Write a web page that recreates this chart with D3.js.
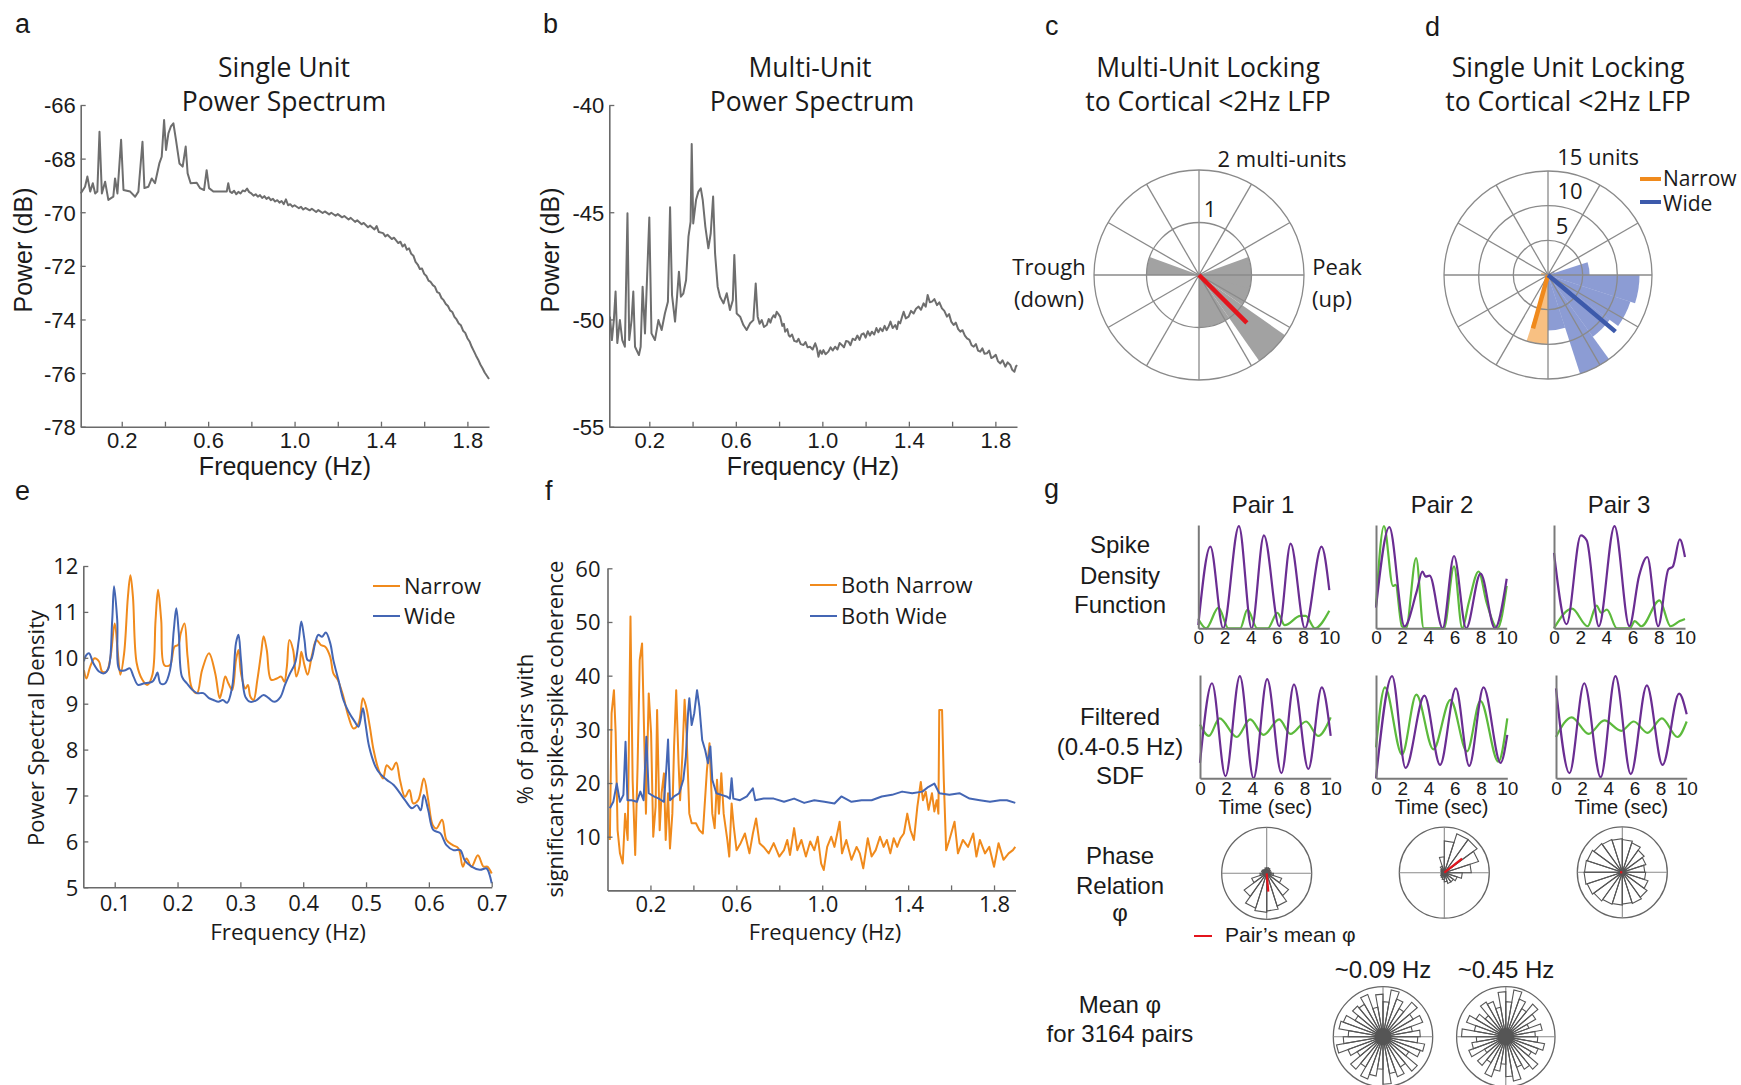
<!DOCTYPE html>
<html><head><meta charset="utf-8">
<script src="https://cdn.jsdelivr.net/npm/d3@7"></script>
<style>
body{margin:0;background:#fff;}
svg{display:block;}
.t{font-family:"Open Sans","Noto Sans",sans-serif;fill:#1a1a1a;}
.ar{font-family:"Liberation Sans",Arial,sans-serif;fill:#1a1a1a;}
</style></head><body>
<script>
// ---------------- DATA ----------------
// Panel a: single unit power spectrum [Hz, dB]
const spectrumA = [[0.010,-69.30],[0.030,-69.05],[0.041,-68.67],[0.054,-69.23],[0.066,-68.92],[0.077,-69.30],[0.087,-69.23],[0.097,-67.00],[0.108,-69.30],[0.123,-68.86],[0.138,-69.54],[0.161,-69.42],[0.169,-68.74],[0.180,-69.30],[0.197,-67.30],[0.208,-69.17],[0.239,-69.23],[0.262,-69.42],[0.277,-69.23],[0.296,-67.37],[0.305,-69.10],[0.323,-69.05],[0.339,-68.74],[0.354,-68.92],[0.374,-68.18],[0.385,-67.93],[0.396,-66.56],[0.405,-67.68],[0.416,-67.06],[0.427,-66.81],[0.439,-66.68],[0.451,-67.30],[0.467,-68.18],[0.482,-68.30],[0.496,-67.55],[0.505,-68.55],[0.519,-68.92],[0.547,-68.90],[0.562,-69.10],[0.581,-69.17],[0.593,-68.43],[0.604,-69.10],[0.624,-69.23],[0.655,-69.23],[0.686,-69.23],[0.693,-68.92],[0.701,-69.23],
  [0.71,-69.28],[0.72,-69.20],[0.73,-69.33],[0.74,-69.24],[0.75,-69.30],[0.76,-69.19],[0.77,-69.22],[0.78,-69.12],[0.79,-69.25],[0.80,-69.30],[0.81,-69.38],[0.82,-69.33],[0.83,-69.42],[0.84,-69.36],[0.85,-69.47],[0.86,-69.40],[0.87,-69.50],[0.88,-69.44],[0.89,-69.55],[0.90,-69.50],[0.91,-69.60],[0.92,-69.55],[0.93,-69.64],[0.94,-69.58],[0.95,-69.70],[0.96,-69.52],[0.97,-69.74],[0.98,-69.70],[0.99,-69.79],[1.00,-69.74],[1.02,-69.85],[1.03,-69.80],[1.04,-69.90],[1.05,-69.84],[1.07,-69.93],[1.08,-69.87],[1.10,-69.99],[1.11,-69.92],[1.13,-70.03],[1.14,-69.97],[1.16,-70.08],[1.17,-70.02],[1.19,-70.13],[1.20,-70.07],[1.22,-70.19],[1.23,-70.14],[1.25,-70.27],[1.26,-70.21],[1.28,-70.36],[1.29,-70.30],[1.31,-70.45],[1.32,-70.40],[1.34,-70.56],[1.35,-70.50],[1.37,-70.64],[1.38,-70.52],[1.39,-70.74],[1.41,-70.78],[1.42,-70.90],[1.43,-70.84],[1.45,-71.00],[1.46,-70.95],[1.48,-71.15],[1.49,-71.10],[1.50,-71.28],[1.51,-71.20],[1.52,-71.40],[1.53,-71.35],[1.54,-71.55],[1.55,-71.62],[1.56,-71.85],[1.57,-71.95],[1.58,-72.12],[1.59,-72.10],[1.60,-72.30],[1.61,-72.38],[1.62,-72.55],[1.63,-72.60],[1.64,-72.72],[1.65,-72.78],[1.66,-72.98],[1.67,-73.02],[1.68,-73.20],[1.69,-73.28],[1.70,-73.42],[1.71,-73.50],[1.72,-73.66],[1.73,-73.72],[1.74,-73.90],[1.75,-74.00],[1.76,-74.15],[1.77,-74.22],[1.78,-74.42],[1.79,-74.50],[1.80,-74.70],[1.81,-74.82],[1.82,-75.02],[1.83,-75.18],[1.84,-75.35],[1.85,-75.50],[1.86,-75.68],[1.87,-75.82],[1.88,-75.98],[1.89,-76.10],[1.90,-76.22]];
// Panel b: multi-unit power spectrum [Hz, dB]
const spectrumB = [[0.018,-49.87],[0.027,-50.96],[0.036,-50.03],[0.044,-48.70],[0.052,-51.10],[0.064,-50.03],[0.075,-50.96],[0.087,-51.27],[0.099,-45.05],[0.107,-50.96],[0.118,-50.03],[0.126,-48.70],[0.134,-51.27],[0.152,-51.66],[0.160,-51.27],[0.169,-48.47],[0.180,-50.65],[0.200,-45.24],[0.210,-50.65],[0.226,-50.96],[0.242,-50.03],[0.257,-50.49],[0.272,-49.72],[0.286,-49.17],[0.296,-44.77],[0.305,-48.86],[0.319,-50.10],[0.327,-49.10],[0.337,-47.77],[0.346,-48.94],[0.357,-48.80],[0.370,-48.16],[0.381,-46.14],[0.391,-45.44],[0.396,-41.82],[0.403,-45.52],[0.416,-44.43],[0.427,-44.04],[0.438,-43.89],[0.447,-44.43],[0.459,-45.67],[0.473,-46.68],[0.484,-45.98],[0.495,-44.27],[0.504,-46.92],[0.516,-48.47],[0.527,-48.94],[0.543,-49.25],[0.558,-48.78],[0.573,-49.56],[0.586,-49.10],[0.593,-46.99],[0.604,-49.72],[0.620,-49.87],[0.635,-50.26],[0.650,-50.49],[0.666,-50.18],[0.681,-50.03],[0.692,-48.32],
  [0.701,-49.87],[0.710,-50.20],[0.720,-50.03],[0.730,-50.35],[0.743,-50.26],[0.752,-49.98],[0.760,-50.15],[0.766,-49.95],[0.775,-49.80],[0.782,-49.90],[0.789,-49.64],[0.797,-49.75],[0.805,-49.87],[0.815,-50.30],[0.822,-50.20],[0.828,-50.57],[0.838,-50.45],[0.845,-50.75],[0.851,-50.80],[0.860,-50.70],[0.870,-51.00],[0.882,-51.04],[0.890,-50.90],[0.900,-51.15],[0.913,-51.19],[0.922,-51.05],[0.932,-51.30],[0.943,-51.27],[0.955,-51.40],[0.967,-51.11],[0.975,-51.35],[0.982,-51.74],[0.990,-51.45],[0.998,-51.60],[1.005,-51.43],[1.015,-51.62],[1.028,-51.50],[1.038,-51.30],[1.048,-51.45],[1.059,-51.27],[1.070,-51.40],[1.080,-51.10],[1.090,-51.19],[1.100,-51.30],[1.110,-51.00],[1.121,-51.04],[1.130,-51.20],[1.140,-50.90],[1.152,-50.96],[1.162,-50.75],[1.172,-50.95],[1.181,-50.70],[1.191,-50.65],[1.200,-50.85],[1.210,-50.55],[1.220,-50.75],[1.229,-50.57],[1.240,-50.70],[1.250,-50.40],[1.259,-50.60],[1.268,-50.41],[1.278,-50.55],[1.288,-50.30],[1.297,-50.50],[1.306,-50.34],[1.315,-50.10],[1.325,-50.40],[1.337,-50.26],[1.345,-50.45],[1.352,-50.10],[1.360,-50.18],[1.368,-49.90],[1.376,-49.64],[1.386,-49.95],[1.399,-49.87],[1.410,-49.60],[1.422,-49.72],[1.433,-49.50],[1.445,-49.40],[1.456,-49.55],[1.468,-49.25],[1.478,-49.40],[1.487,-48.86],[1.497,-49.20],[1.507,-49.17],[1.518,-49.05],[1.530,-49.33],[1.541,-49.20],[1.553,-49.48],[1.564,-49.60],[1.576,-49.87],[1.586,-49.75],[1.596,-50.10],[1.607,-50.26],[1.617,-50.15],[1.628,-50.45],[1.638,-50.57],[1.648,-50.50],[1.659,-50.75],[1.669,-50.88],[1.680,-50.95],[1.690,-51.20],[1.700,-51.27],[1.710,-51.15],[1.720,-51.45],[1.730,-51.50],[1.740,-51.35],[1.750,-51.60],[1.761,-51.58],[1.771,-51.45],[1.781,-51.80],[1.792,-51.74],[1.802,-51.65],[1.812,-51.95],[1.823,-52.05],[1.833,-51.90],[1.846,-52.20],[1.857,-52.00],[1.869,-52.12],[1.878,-52.35],[1.888,-52.44],[1.895,-52.20],[1.900,-52.12]];
// Panel c: multi-unit phase histogram [bin centre deg, count]
const multiUnitBins = [[170,1],[10,1],[-10,1],[-25,1],[-45,2],[-65,1],[-80,1]];
const multiUnitMean = [-45, 1.29];
// Panel d: single-unit phase histograms [bin centre deg, count]
const wideBins = [[27,1],[9,6],[-9,13.2],[-27,12.5],[-45,11],[-63,15],[-81,8]];
const narrowBins = [[-99,10],[171,1],[153,0.8]];
const wideMean = [-40, 12.7];
const narrowMean = [-105.7, 8.0];
// Panel e: power spectral density [Hz, PSD]
const psdNarrow = [[0.051,9.73],[0.055,9.55],[0.061,9.81],[0.068,9.99],[0.075,9.92],[0.080,9.70],[0.087,9.70],[0.093,9.99],[0.100,10.75],[0.105,10.10],[0.109,9.63],[0.115,10.10],[0.121,11.33],[0.125,11.80],[0.129,11.33],[0.135,9.88],[0.144,9.52],[0.152,9.41],[0.160,9.63],[0.165,10.82],[0.169,11.48],[0.174,10.82],[0.179,9.84],[0.188,9.84],[0.195,10.24],[0.201,10.28],[0.205,10.53],[0.211,10.75],[0.216,10.02],[0.223,9.33],[0.231,9.23],[0.239,9.73],[0.250,10.10],[0.260,9.66],[0.267,9.12],[0.271,9.30],[0.276,9.59],[0.281,9.44],[0.287,9.30],[0.293,9.95],[0.297,10.17],[0.301,9.66],[0.308,9.33],[0.312,9.41],[0.316,9.15],[0.321,9.08],[0.327,9.52],[0.333,10.10],[0.337,10.47],[0.342,10.17],[0.349,9.52],[0.358,9.55],[0.365,9.59],[0.370,9.48],[0.374,9.81],[0.378,10.39],[0.384,10.17],[0.389,9.59],[0.394,9.81],[0.397,10.13],[0.402,9.84],[0.407,9.63],[0.414,10.06],[0.421,10.39],[0.428,10.28],[0.435,10.24],[0.443,10.02],[0.448,9.66],[0.455,9.52],[0.464,9.15],[0.472,8.72],[0.480,8.46],[0.488,8.57],[0.495,9.12],[0.500,8.94],[0.506,8.50],[0.512,7.99],[0.520,7.56],[0.527,7.37],[0.533,7.66],[0.541,7.56],[0.548,7.72],[0.554,7.34],[0.562,6.97],[0.569,7.12],[0.575,6.83],[0.583,6.90],[0.592,7.37],[0.599,6.90],[0.606,6.36],[0.612,6.28],[0.621,6.47],[0.628,6.03],[0.638,5.92],[0.647,5.85],[0.654,5.45],[0.660,5.63],[0.668,5.45],[0.678,5.70],[0.687,5.45],[0.693,5.45],[0.700,5.30]];
const psdWide = [[0.051,9.92],[0.053,10.02],[0.059,10.10],[0.066,9.88],[0.075,9.70],[0.083,9.66],[0.090,9.77],[0.096,10.82],[0.099,11.56],[0.104,10.82],[0.108,9.73],[0.117,9.73],[0.124,9.77],[0.130,9.59],[0.137,9.41],[0.146,9.44],[0.160,9.48],[0.165,9.59],[0.168,9.68],[0.173,9.44],[0.180,9.44],[0.188,9.73],[0.194,10.60],[0.198,11.08],[0.202,10.53],[0.207,9.59],[0.215,9.44],[0.223,9.31],[0.231,9.23],[0.241,9.23],[0.250,9.12],[0.257,9.08],[0.265,9.04],[0.272,9.08],[0.279,9.02],[0.287,9.37],[0.293,10.32],[0.297,10.50],[0.301,9.95],[0.308,9.15],[0.316,9.04],[0.326,9.08],[0.337,9.19],[0.345,9.12],[0.354,9.04],[0.364,9.15],[0.371,9.41],[0.379,9.66],[0.387,9.88],[0.393,10.39],[0.397,10.79],[0.402,10.39],[0.407,9.95],[0.412,9.95],[0.419,10.32],[0.424,10.50],[0.430,10.46],[0.436,10.55],[0.443,10.32],[0.448,9.95],[0.456,9.52],[0.464,9.08],[0.472,8.83],[0.482,8.61],[0.488,8.50],[0.495,8.90],[0.499,8.57],[0.505,8.06],[0.515,7.63],[0.522,7.48],[0.533,7.34],[0.544,7.23],[0.554,7.05],[0.562,6.90],[0.573,6.72],[0.581,6.79],[0.587,6.68],[0.592,7.01],[0.599,6.68],[0.607,6.25],[0.618,6.18],[0.628,5.92],[0.639,5.81],[0.650,5.81],[0.657,5.59],[0.668,5.45],[0.681,5.38],[0.692,5.41],[0.696,5.30],[0.700,5.09]];
// Panel f: % of pairs with significant coherence [Hz, %]
const cohNarrow = [[0.011,9.4],[0.019,33.0],[0.030,37.3],[0.038,29.3],[0.047,11.2],[0.058,6.9],[0.071,5.0],[0.082,14.3],[0.094,9.4],[0.107,51.0],[0.117,20.6],[0.129,6.6],[0.140,23.0],[0.150,42.9],[0.161,46.0],[0.172,26.8],[0.179,14.3],[0.192,36.7],[0.203,29.3],[0.213,10.0],[0.224,15.6],[0.231,33.6],[0.243,11.2],[0.252,18.1],[0.263,21.8],[0.271,9.4],[0.282,18.1],[0.291,7.8],[0.302,14.3],[0.310,26.8],[0.320,37.3],[0.331,23.7],[0.338,16.8],[0.349,25.5],[0.359,35.5],[0.368,29.3],[0.381,14.3],[0.392,12.5],[0.412,12.5],[0.428,11.2],[0.444,10.6],[0.463,22.4],[0.475,27.4],[0.488,14.3],[0.499,11.6],[0.510,20.6],[0.519,14.3],[0.530,21.8],[0.541,14.3],[0.558,9.4],[0.567,6.3],[0.578,16.2],[0.588,11.9],[0.601,7.5],[0.620,8.8],[0.640,10.6],[0.661,6.9],[0.677,10.6],[0.692,13.4],[0.708,8.8],[0.727,8.1],[0.751,6.9],[0.774,8.8],[0.800,6.3],[0.822,7.5],[0.837,9.4],[0.850,6.6],[0.869,11.6],[0.884,7.5],[0.903,9.4],[0.924,6.3],[0.944,9.1],[0.963,7.5],[0.979,10.0],[0.995,5.0],[1.007,3.8],[1.023,8.1],[1.042,10.0],[1.057,8.1],[1.073,11.2],[1.081,12.8],[1.092,6.9],[1.112,9.4],[1.136,5.7],[1.160,8.1],[1.175,6.9],[1.191,4.1],[1.212,9.7],[1.230,6.3],[1.249,7.5],[1.269,10.0],[1.286,8.1],[1.301,9.4],[1.317,6.9],[1.333,9.7],[1.349,8.1],[1.364,9.7],[1.380,10.6],[1.396,14.3],[1.411,11.2],[1.427,9.4],[1.443,15.6],[1.459,20.2],[1.469,16.8],[1.482,18.4],[1.495,15.0],[1.511,18.1],[1.522,14.7],[1.533,16.8],[1.541,14.3],[1.545,33.6],[1.558,33.6],[1.566,20.6],[1.577,7.5],[1.592,9.4],[1.616,12.8],[1.632,6.9],[1.655,9.4],[1.679,8.1],[1.703,10.6],[1.718,6.3],[1.734,9.4],[1.758,6.9],[1.778,8.1],[1.800,4.4],[1.821,8.8],[1.844,5.7],[1.868,6.9],[1.888,7.5],[1.899,8.1]];
const cohWide = [[0.011,15.3],[0.027,16.5],[0.043,19.9],[0.058,16.5],[0.074,17.8],[0.084,27.7],[0.093,16.8],[0.113,16.8],[0.137,16.5],[0.153,18.4],[0.168,16.8],[0.181,28.6],[0.192,18.1],[0.216,17.5],[0.239,17.1],[0.263,16.5],[0.274,22.7],[0.282,28.1],[0.291,16.8],[0.310,17.5],[0.334,18.1],[0.353,20.6],[0.365,24.9],[0.375,33.0],[0.381,35.8],[0.392,30.8],[0.404,33.0],[0.417,37.3],[0.428,34.2],[0.441,28.0],[0.455,26.1],[0.468,23.7],[0.479,26.8],[0.488,20.6],[0.507,18.1],[0.530,17.8],[0.554,17.5],[0.570,17.1],[0.578,20.9],[0.586,17.1],[0.617,16.8],[0.649,17.5],[0.677,19.0],[0.688,16.8],[0.727,17.1],[0.774,17.1],[0.822,16.5],[0.869,17.1],[0.916,16.3],[0.963,16.8],[1.010,16.5],[1.057,16.2],[1.089,17.5],[1.136,16.5],[1.183,16.8],[1.230,16.8],[1.277,17.5],[1.325,17.8],[1.372,18.4],[1.419,18.1],[1.466,18.4],[1.495,19.3],[1.522,19.9],[1.545,18.1],[1.592,17.8],[1.639,18.1],[1.686,17.1],[1.734,16.8],[1.781,16.5],[1.828,16.8],[1.860,16.8],[1.899,16.3]];
// Panel g: spike density functions [sec, normalised]
const sdf1Purple = [[0,0.03],[0.92,0.79],[1.9,0.0],[3.1,0.99],[4.07,0.0],[5.01,0.90],[6.18,0.02],[7.05,0.82],[8.14,0.0],[9.41,0.79],[10,0.37]];
const sdf1Green = [[0,0.09],[0.6,0],[1.54,0.2],[2.3,0],[3.2,0],[3.75,0.18],[4.5,0],[5.3,0],[6.04,0.15],[6.6,0.03],[7.8,0.12],[8.2,0.12],[8.9,0],[10,0.17]];
const sdf2Purple = [[0,0.2],[1.02,0.98],[2.18,0.02],[3.1,0.35],[3.55,0.55],[3.8,0.5],[4.1,0.51],[5.1,0],[5.97,0.7],[6.9,0],[8.0,0.53],[9.1,0],[10,0.48]];
const sdf2Green = [[0,0.22],[0.61,0.99],[1.3,0.41],[1.5,0.42],[1.98,0.02],[2.3,0],[3.07,0.68],[3.65,0],[5.2,0],[5.97,0.6],[6.6,0],[7.1,0.25],[7.85,0.55],[8.46,0.25],[9.3,0],[10,0.41]];
const sdf3Purple = [[0,0.73],[0.96,0.04],[2.05,0.9],[2.5,0.85],[3.42,0.02],[4.62,0.99],[5.75,0.02],[6.5,0.51],[7.12,0.69],[7.95,0.02],[8.73,0.57],[9.08,0.6],[9.6,0.86],[10,0.69]];
const sdf3Green = [[0,0],[1.37,0.19],[2.57,0.02],[3.25,0.22],[3.6,0.15],[4.04,0.18],[4.8,0],[5.8,0],[6.16,0.07],[6.68,0.02],[8.05,0.27],[8.9,0.02],[9.6,0.07],[10,0.09]];
const filt1Purple = [[0,0.15],[0.92,0.92],[1.95,0.02],[3.05,0.99],[4.1,0],[5.14,0.96],[6.23,0.05],[7.19,0.91],[8.29,0.09],[9.32,0.88],[10,0.41]];
const filt1Green = [[0,0.52],[0.68,0.41],[1.5,0.58],[2.81,0.40],[3.84,0.57],[4.86,0.42],[6.06,0.57],[6.92,0.43],[8.12,0.55],[9.04,0.41],[10,0.59]];
const filt2Purple = [[0,0.0],[1.23,0.99],[2.25,0.10],[3.69,0.80],[4.88,0.13],[6.08,0.87],[7.1,0.12],[8.19,0.88],[9.49,0.15],[10,0.42]];
const filt2Green = [[0,0.3],[0.68,0.88],[1.98,0.23],[3.07,0.81],[4.37,0.28],[5.67,0.76],[6.93,0.26],[7.95,0.75],[9.32,0.16],[10,0.58]];
const filt3Purple = [[0,0.87],[1.03,0.05],[2.16,0.92],[3.42,0.01],[4.55,0.99],[5.72,0.04],[6.95,0.90],[8.15,0.13],[9.42,0.82],[10,0.62]];
const filt3Green = [[0,0.40],[1.2,0.59],[2.5,0.43],[3.7,0.56],[5.0,0.46],[5.95,0.55],[7.0,0.44],[8.1,0.58],[9.3,0.40],[10,0.55]];
// Phase relation rose radii (20 bins from 0 deg, counter-clockwise), normalised
const pair1Rose = [0.10,0.08,0.10,0.12,0.12,0.12,0.10,0.10,0.12,0.10,0.15,0.35,0.62,0.80,0.85,0.82,0.75,0.60,0.35,0.15];
const pair2Rose = [0.60,0.80,0.90,0.90,0.70,0.35,0.15,0.10,0.08,0.06,0.06,0.08,0.10,0.12,0.15,0.20,0.25,0.25,0.30,0.40];
const pair3Rose = [0.50,0.55,0.60,0.68,0.72,0.74,0.76,0.78,0.82,0.84,0.85,0.82,0.78,0.74,0.72,0.70,0.72,0.68,0.60,0.52];
const pairMeans = [[-85,0.4],[38,0.5],[180,0.05]];
const meanRose009 = [0.75,0.60,0.85,0.70,0.90,0.65,0.80,0.95,0.70,0.85,0.60,0.90,0.75,0.80,0.65,0.85,0.90,0.70,0.80,0.95,0.75,0.60,0.85,0.70,0.90,0.80,0.65,0.95,0.75,0.85,0.70,0.90,0.60,0.80,0.85,0.70];
const meanRose045 = [0.60,0.75,0.50,0.70,0.85,0.65,0.80,0.95,0.70,0.90,0.60,0.75,0.80,0.55,0.70,0.85,0.65,0.90,0.60,0.70,0.80,0.50,0.75,0.60,0.85,0.70,0.55,0.80,0.90,0.65,0.75,0.85,0.60,0.70,0.80,0.65];
const sdfTicks = [0,2,4,6,8,10];

// ---------------- DRAWING ----------------
const W = 1741, H = 1085;
const svg = d3.select('body').append('svg').attr('width', W).attr('height', H);
const AX = '#6a6a6a', GRID = '#8a8a8a';
const ORANGE = '#f08a1c', BLUE = '#4466b4', PURPLE = '#6a2d92', GREEN = '#5cba3c';

function txt(x, y, s, cls, size, anchor) {
  return svg.append('text').attr('x', x).attr('y', y).attr('class', cls)
    .attr('font-size', size).attr('text-anchor', anchor || 'middle').text(s);
}
function vtxt(x, y, s, cls, size) {
  return svg.append('text').attr('transform', `translate(${x},${y}) rotate(-90)`)
    .attr('class', cls).attr('font-size', size).attr('text-anchor', 'middle').text(s);
}

function lineChart(c) {
  const x = d3.scaleLinear().domain(c.xDomain).range([c.left, c.right]);
  const y = d3.scaleLinear().domain(c.yDomain).range([c.bottom, c.top]);
  const g = svg.append('g');
  c.series.forEach(s => {
    g.append('path').datum(s.data).attr('fill', 'none').attr('stroke', s.color)
      .attr('stroke-width', s.width).attr('stroke-linejoin', 'round')
      .attr('d', d3.line().x(d => x(d[0])).y(d => y(d[1])).curve(s.curve || d3.curveLinear));
  });
  const xa = g.append('g').attr('transform', `translate(0,${c.bottom})`)
    .call(d3.axisBottom(x).tickValues(c.xTicks).tickSize(-c.tickLen).tickSizeOuter(0)
      .tickFormat(d => c.xLabels.some(v => Math.abs(v - d) < 1e-9) ? c.xFmt(d) : ''));
  xa.selectAll('text').attr('y', c.xLabOff).attr('dy', null).attr('class', c.tickCls)
    .attr('font-size', c.tickSize).attr('fill', '#1a1a1a');
  const ya = g.append('g').attr('transform', `translate(${c.left},0)`)
    .call(d3.axisLeft(y).tickValues(c.yTicks).tickSize(-c.tickLen).tickSizeOuter(0)
      .tickPadding(c.yPad).tickFormat(c.yFmt));
  ya.selectAll('text').attr('class', c.tickCls).attr('font-size', c.tickSize).attr('fill', '#1a1a1a')
    .attr('dy', '0.36em');
  [xa, ya].forEach(a => {
    a.select('.domain').attr('stroke', AX).attr('stroke-width', 1.6);
    a.selectAll('.tick line').attr('stroke', AX).attr('stroke-width', 1.3);
  });
  return { x, y };
}

// Panel letters
[['a', 15, 33], ['b', 543, 33], ['c', 1045, 35], ['d', 1425, 36], ['e', 15, 500], ['f', 545, 500], ['g', 1044, 498]]
  .forEach(([s, x, y]) => txt(x, y, s, 'ar', 27, 'start'));

// ---- Panel a
txt(284, 77, 'Single Unit', 't', 26.5);
txt(284, 111, 'Power Spectrum', 't', 26.5);
lineChart({
  left: 80.7, right: 489, top: 105, bottom: 426.7, xDomain: [0.01, 1.9], yDomain: [-78, -66],
  xTicks: [0.2, 0.4, 0.6, 0.8, 1.0, 1.2, 1.4, 1.6, 1.8], xLabels: [0.2, 0.6, 1.0, 1.4, 1.8], xFmt: d3.format('.1f'),
  yTicks: [-78, -76, -74, -72, -70, -68, -66], yFmt: d => String(d), tickLen: 5, yPad: 5, xLabOff: 21,
  tickCls: 'ar', tickSize: 22,
  series: [{ data: spectrumA, color: '#6e6e6e', width: 2 }]
});
vtxt(32, 250, 'Power (dB)', 'ar', 25);
txt(285, 475, 'Frequency (Hz)', 'ar', 25);

// ---- Panel b
txt(810, 77, 'Multi-Unit', 't', 26.5);
txt(812, 111, 'Power Spectrum', 't', 26.5);
lineChart({
  left: 609.3, right: 1017, top: 105, bottom: 426.7, xDomain: [0.015, 1.9], yDomain: [-55, -40],
  xTicks: [0.2, 0.4, 0.6, 0.8, 1.0, 1.2, 1.4, 1.6, 1.8], xLabels: [0.2, 0.6, 1.0, 1.4, 1.8], xFmt: d3.format('.1f'),
  yTicks: [-55, -50, -45, -40], yFmt: d => String(d), tickLen: 5, yPad: 5, xLabOff: 21,
  tickCls: 'ar', tickSize: 22,
  series: [{ data: spectrumB, color: '#6e6e6e', width: 2 }]
});
vtxt(559, 250, 'Power (dB)', 'ar', 25);
txt(813, 475, 'Frequency (Hz)', 'ar', 25);

// ---- Polar helpers
const toRad = deg => (90 - deg) * Math.PI / 180; // math angle -> d3 arc angle
function polarPanel(cx, cy, rScale, rings, maxV, binsSets, means) {
  const g = svg.append('g').attr('transform', `translate(${cx},${cy})`);
  const arc = d3.arc();
  binsSets.forEach(bs => {
    bs.bins.forEach(([c, v]) => {
      g.append('path').attr('d', arc({ innerRadius: 0, outerRadius: rScale(v),
        startAngle: toRad(c + bs.width / 2), endAngle: toRad(c - bs.width / 2) }))
        .attr('fill', bs.fill).attr('fill-opacity', bs.opacity);
    });
  });
  rings.forEach(v => g.append('circle').attr('r', rScale(v)).attr('fill', 'none')
    .attr('stroke', GRID).attr('stroke-width', 1.3));
  d3.range(0, 360, 30).forEach(a => {
    g.append('line').attr('x1', 0).attr('y1', 0)
      .attr('x2', rScale(maxV) * Math.cos(a * Math.PI / 180)).attr('y2', -rScale(maxV) * Math.sin(a * Math.PI / 180))
      .attr('stroke', GRID).attr('stroke-width', 1.3);
  });
  means.forEach(m => {
    const a = m.angle * Math.PI / 180;
    g.append('line').attr('x1', 0).attr('y1', 0)
      .attr('x2', rScale(m.r) * Math.cos(a)).attr('y2', -rScale(m.r) * Math.sin(a))
      .attr('stroke', m.color).attr('stroke-width', 4.5);
  });
}

// ---- Panel c
txt(1208, 77, 'Multi-Unit Locking', 't', 26.5);
txt(1208, 111, 'to Cortical <2Hz LFP', 't', 26.5);
const rC = d3.scaleLinear().domain([0, 2]).range([0, 105]);
polarPanel(1199, 275, rC, [1, 2], 2,
  [{ bins: multiUnitBins, width: 20, fill: '#a2a2a2', opacity: 1 }],
  [{ angle: multiUnitMean[0], r: multiUnitMean[1], color: '#e3141c' }]);
txt(1282, 167, '2 multi-units', 't', 22);
txt(1210, 217, '1', 't', 22);
txt(1049, 275, 'Trough', 't', 22);
txt(1049, 307, '(down)', 't', 22);
txt(1337, 275, 'Peak', 't', 22);
txt(1332, 307, '(up)', 't', 22);

// ---- Panel d
txt(1568, 77, 'Single Unit Locking', 't', 26.5);
txt(1568, 111, 'to Cortical <2Hz LFP', 't', 26.5);
const rD = d3.scaleLinear().domain([0, 15]).range([0, 104]);
polarPanel(1548, 275, rD, [5, 10, 15], 15,
  [{ bins: wideBins, width: 18, fill: '#3f5ab8', opacity: 0.6 },
   { bins: narrowBins, width: 18, fill: '#f28c1c', opacity: 0.55 }],
  [{ angle: narrowMean[0], r: narrowMean[1], color: ORANGE },
   { angle: wideMean[0], r: wideMean[1], color: '#3d5aab' }]);
txt(1598, 165, '15 units', 't', 22);
txt(1570, 199, '10', 't', 22);
txt(1562, 234, '5', 't', 22);
svg.append('line').attr('x1', 1640).attr('x2', 1661).attr('y1', 179).attr('y2', 179).attr('stroke', ORANGE).attr('stroke-width', 4);
txt(1663, 186, 'Narrow', 't', 21, 'start');
svg.append('line').attr('x1', 1640).attr('x2', 1661).attr('y1', 202).attr('y2', 202).attr('stroke', '#3d5aab').attr('stroke-width', 4);
txt(1663, 211, 'Wide', 't', 21, 'start');

// ---- Panel e
lineChart({
  left: 83.3, right: 491.7, top: 566, bottom: 887.3, xDomain: [0.05, 0.7], yDomain: [5, 12],
  xTicks: [0.1, 0.2, 0.3, 0.4, 0.5, 0.6, 0.7], xLabels: [0.1, 0.2, 0.3, 0.4, 0.5, 0.6, 0.7], xFmt: d3.format('.1f'),
  yTicks: [5, 6, 7, 8, 9, 10, 11, 12], yFmt: d => String(d), tickLen: 5, yPad: 5, xLabOff: 24,
  tickCls: 't', tickSize: 22,
  series: [{ data: psdNarrow, color: ORANGE, width: 2, curve: d3.curveCatmullRom },
           { data: psdWide, color: BLUE, width: 2, curve: d3.curveCatmullRom }]
});
vtxt(44, 728, 'Power Spectral Density', 't', 22);
txt(288, 940, 'Frequency (Hz)', 't', 22.5);
svg.append('line').attr('x1', 373).attr('x2', 400).attr('y1', 586).attr('y2', 586).attr('stroke', ORANGE).attr('stroke-width', 2);
txt(404, 594, 'Narrow', 't', 22, 'start');
svg.append('line').attr('x1', 373).attr('x2', 400).attr('y1', 616).attr('y2', 616).attr('stroke', BLUE).attr('stroke-width', 2);
txt(404, 624, 'Wide', 't', 22, 'start');

// ---- Panel f
lineChart({
  left: 607.5, right: 1015.5, top: 568.3, bottom: 890.4, xDomain: [0, 1.9], yDomain: [0, 60],
  xTicks: [0.2, 0.4, 0.6, 0.8, 1.0, 1.2, 1.4, 1.6, 1.8], xLabels: [0.2, 0.6, 1.0, 1.4, 1.8], xFmt: d3.format('.1f'),
  yTicks: [10, 20, 30, 40, 50, 60], yFmt: d => String(d), tickLen: 5, yPad: 7, xLabOff: 22,
  tickCls: 't', tickSize: 22,
  series: [{ data: cohNarrow, color: ORANGE, width: 2 }, { data: cohWide, color: BLUE, width: 2 }]
});
vtxt(533, 729, '% of pairs with', 't', 22);
vtxt(563, 729, 'significant spike-spike coherence', 't', 22);
txt(825, 940, 'Frequency (Hz)', 't', 22);
svg.append('line').attr('x1', 810).attr('x2', 837).attr('y1', 585).attr('y2', 585).attr('stroke', ORANGE).attr('stroke-width', 2);
txt(841, 593, 'Both Narrow', 't', 22, 'start');
svg.append('line').attr('x1', 810).attr('x2', 837).attr('y1', 616).attr('y2', 616).attr('stroke', BLUE).attr('stroke-width', 2);
txt(841, 624, 'Both Wide', 't', 22, 'start');

// ---- Panel g
txt(1263, 513, 'Pair 1', 'ar', 24);
txt(1442, 513, 'Pair 2', 'ar', 24);
txt(1619, 513, 'Pair 3', 'ar', 24);
[['Spike', 553], ['Density', 584], ['Function', 613], ['Filtered', 725], ['(0.4-0.5 Hz)', 755], ['SDF', 784],
 ['Phase', 864], ['Relation', 894], ['φ', 921], ['Mean φ', 1013], ['for 3164 pairs', 1042]]
  .forEach(([s, y]) => txt(1120, y, s, 'ar', 24));

function sdfPlot(left, right, top, bottom, purple, green, tickBase, withTime) {
  const x = d3.scaleLinear().domain([0, 10]).range([left, right]);
  const y = d3.scaleLinear().domain([0, 1]).range([bottom, top]);
  const g = svg.append('g');
  const ln = d3.line().x(d => x(d[0])).y(d => y(d[1])).curve(d3.curveMonotoneX);
  g.append('path').datum(green).attr('d', ln).attr('fill', 'none').attr('stroke', GREEN).attr('stroke-width', 2.2);
  g.append('path').datum(purple).attr('d', ln).attr('fill', 'none').attr('stroke', PURPLE).attr('stroke-width', 2.2);
  const xa = g.append('g').attr('transform', `translate(0,${bottom})`)
    .call(d3.axisBottom(x).tickValues(sdfTicks).tickSize(0).tickSizeOuter(0).tickFormat(d3.format('d')));
  xa.selectAll('text').attr('y', tickBase - bottom).attr('dy', null).attr('class', 'ar').attr('font-size', 19).attr('fill', '#1a1a1a');
  const ya = g.append('g').attr('transform', `translate(${left},0)`)
    .call(d3.axisLeft(y).tickValues([]).tickSize(0).tickSizeOuter(0));
  [xa, ya].forEach(a => a.select('.domain').attr('stroke', '#7a7a7a').attr('stroke-width', 2));
  if (withTime) txt((left + right) / 2, 814, 'Time (sec)', 'ar', 20);
}
sdfPlot(1198.3, 1329.3, 525, 628.3, sdf1Purple, sdf1Green, 644, false);
sdfPlot(1376, 1506.7, 525, 628.3, sdf2Purple, sdf2Green, 644, false);
sdfPlot(1554, 1685, 525, 628.3, sdf3Purple, sdf3Green, 644, false);
sdfPlot(1200, 1330.7, 675, 778.3, filt1Purple, filt1Green, 795, true);
sdfPlot(1376, 1507.3, 675, 778.3, filt2Purple, filt2Green, 795, true);
sdfPlot(1556, 1686.7, 675, 778.3, filt3Purple, filt3Green, 795, true);

function roseEllipse(cx, cy, rx, ry, radii, mean, blob) {
  const sx = d3.scaleLinear().domain([-1, 1]).range([cx - rx, cx + rx]);
  const sy = d3.scaleLinear().domain([-1, 1]).range([cy + ry, cy - ry]);
  const g = svg.append('g');
  g.append('ellipse').attr('cx', sx(0)).attr('cy', sy(0)).attr('rx', rx).attr('ry', ry)
    .attr('fill', '#fff').attr('stroke', '#666').attr('stroke-width', 1.3);
  g.append('line').attr('x1', sx(-1)).attr('x2', sx(1)).attr('y1', sy(0)).attr('y2', sy(0)).attr('stroke', '#8a8a8a').attr('stroke-width', 1.1);
  g.append('line').attr('x1', sx(0)).attr('x2', sx(0)).attr('y1', sy(-1)).attr('y2', sy(1)).attr('stroke', '#8a8a8a').attr('stroke-width', 1.1);
  const n = radii.length, w = 2 * Math.PI / n;
  const ln = d3.line().x(d => sx(d[0])).y(d => sy(d[1]));
  radii.forEach((r, i) => {
    const a0 = i * w, a1 = (i + 1) * w;
    g.append('path').datum([[0, 0], [r * Math.cos(a0), r * Math.sin(a0)], [r * Math.cos(a1), r * Math.sin(a1)], [0, 0]])
      .attr('d', ln).attr('fill', 'none').attr('stroke', '#555').attr('stroke-width', 1.1);
  });
  if (blob) g.append('ellipse').attr('cx', sx(0)).attr('cy', sy(0)).attr('rx', rx * blob).attr('ry', ry * blob).attr('fill', '#555');
  if (mean) {
    const a = mean[0] * Math.PI / 180;
    g.append('line').attr('x1', sx(0)).attr('y1', sy(0)).attr('x2', sx(mean[1] * Math.cos(a))).attr('y2', sy(mean[1] * Math.sin(a)))
      .attr('stroke', '#e3141c').attr('stroke-width', 2.2);
  }
}
roseEllipse(1266.7, 873.3, 45, 46, pair1Rose, pairMeans[0], 0.06);
roseEllipse(1444.3, 872.7, 45, 45.5, pair2Rose, pairMeans[1], 0.05);
roseEllipse(1622.3, 872.3, 45, 45.5, pair3Rose, pairMeans[2], 0.05);
svg.append('line').attr('x1', 1194).attr('x2', 1212).attr('y1', 936).attr('y2', 936).attr('stroke', '#e3141c').attr('stroke-width', 2);
txt(1225, 942, 'Pair\u2019s mean φ', 'ar', 21, 'start');
txt(1383, 978, '~0.09 Hz', 'ar', 24);
txt(1506, 978, '~0.45 Hz', 'ar', 24);
roseEllipse(1383, 1036.7, 49.7, 50, meanRose009, null, 0.17);
roseEllipse(1505.8, 1036.7, 49.2, 50, meanRose045, null, 0.17);
</script></body></html>
